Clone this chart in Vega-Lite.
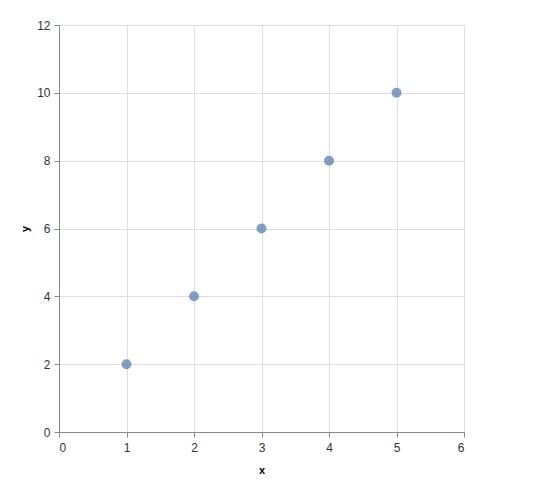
{
  "$schema": "https://vega.github.io/schema/vega-lite/v6.json",
  "width": 405,
  "height": 407,
  "padding": {"left": 19, "top": 19, "right": 5, "bottom": 5},
  "config": {
    "axis": {"labelFontSize": 12, "labelColor": "#333", "titleFontSize": 11}
  },
  "data": {
    "values": [
      {"x": 1, "y": 2},
      {"x": 2, "y": 4},
      {"x": 3, "y": 6},
      {"x": 4, "y": 8},
      {"x": 5, "y": 10}
    ]
  },
  "mark": {"type": "circle", "size": 100, "opacity": 0.7},
  "encoding": {
    "x": {"field": "x", "type": "quantitative", "scale": {"domain": [0, 6]},
          "axis": {"tickCount": 6, "labelPadding": 5, "titlePadding": 11}},
    "y": {"field": "y", "type": "quantitative", "scale": {"domain": [0, 12]},
          "axis": {"tickCount": 6, "labelPadding": 4, "titlePadding": 6}}
  }
}
